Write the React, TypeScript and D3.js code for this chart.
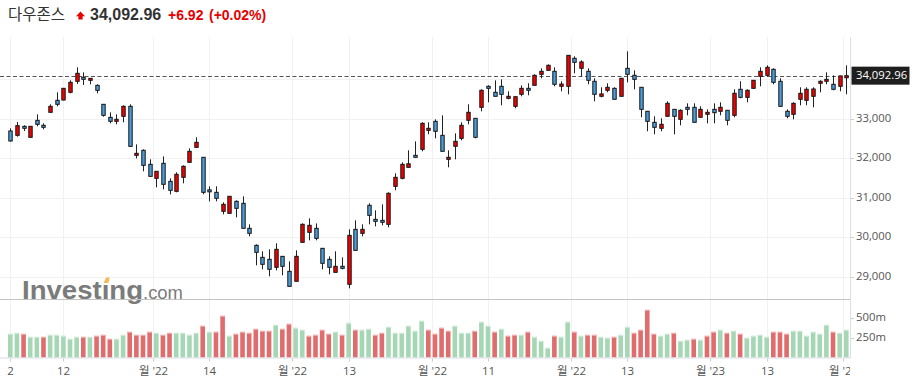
import React from "react";
import * as d3 from "d3";

const openP = [
  32691, 32581, 32809, 32531, 32961, 32835, 33164, 33468, 33476, 33671,
  33949, 34051, 33975, 33848, 33367, 33037, 32936, 33063, 33316, 32074,
  32201, 31846, 31492, 31872, 31416, 31162, 31517, 31897, 32277, 32024,
  31200, 31137, 30656, 30605, 30909, 30858, 30225, 29794, 29490, 29439,
  29237, 29515, 29135, 28882, 29870, 30123, 30225, 29718, 29439, 29110,
  29262, 28806, 30199, 30098, 30808, 30453, 30427, 30326, 31289, 31492,
  31770, 32074, 32226, 32708, 32936, 32581, 31973, 32303, 32505, 32962,
  33012, 33291, 33823, 33671, 33823, 33519, 33316, 33620, 33772, 33848,
  34127, 34228, 34203, 33823, 33823, 34532, 34279, 34203, 33950, 33570,
  33722, 33772, 33570, 34279, 34102, 33798, 33190, 32911, 32759, 33063,
  33240, 32987, 33291, 33291, 33038, 33114, 33240, 33190, 33215, 33088,
  33747, 33544, 33772, 34076, 34102, 34254, 33950, 33190, 33114, 33494,
  33468, 33570, 33899, 33950, 33874, 33823, 34040,
];
const closeP = [
  32438, 32826, 32759, 32809, 32860, 32784, 33316, 33367, 33772, 33924,
  34152, 34000, 34025, 33721, 33088, 32936, 32987, 33316, 32302, 32125,
  31821, 31542, 31669, 31340, 31188, 31593, 31796, 32176, 32404, 31137,
  31150, 30985, 30833, 31036, 30732, 30225, 30098, 29617, 29313, 29186,
  29693, 29262, 28755, 29515, 30326, 30301, 29971, 29338, 29237, 29262,
  29211, 30047, 29667, 30199, 30554, 30402, 30377, 31112, 31517, 31846,
  31860, 32024, 32885, 32759, 32683, 32176, 32024, 32429, 32835, 33164,
  32531, 33722, 33772, 33570, 33620, 33570, 33560, 33772, 33722, 34102,
  34203, 34355, 33874, 33880, 34608, 34431, 34440, 33975, 33620, 33630,
  33798, 33494, 34026, 34127, 34000, 33240, 32936, 32784, 32860, 33392,
  33063, 33215, 33240, 32911, 33240, 33164, 33155, 33291, 32962, 33646,
  33544, 33722, 33975, 34203, 34304, 33924, 33316, 33063, 33392, 33646,
  33747, 33755, 33950, 34000, 33747, 34086.04, 34092.96,
];
const highP = [
  32759, 32919, 32835, 32815, 33113, 32885, 33367, 33671, 33780, 33975,
  34304, 34177, 34030, 33873, 33372, 33164, 33113, 33341, 33367, 32353,
  32226, 31973, 31675, 32049, 31492, 31644, 31821, 32252, 32531, 32030,
  31289, 31289, 30884, 31042, 30934, 31036, 30326, 29819, 29642, 29693,
  29845, 29520, 29389, 29667, 30351, 30478, 30351, 29724, 29515, 29642,
  29490, 30199, 30427, 30326, 30858, 30681, 30833, 31137, 31618, 31897,
  32201, 32429, 32911, 32911, 32987, 33088, 32201, 32632, 32911, 33367,
  33018, 33747, 33848, 33975, 34000, 33696, 33565, 33848, 33899, 34127,
  34279, 34380, 34304, 33950, 34615, 34583, 34482, 34279, 34026, 33798,
  33899, 33798, 34032, 34710, 34228, 33805, 33195, 33063, 33012, 33443,
  33245, 33240, 33392, 33392, 33316, 33240, 33392, 33418, 33220, 33747,
  33950, 33747, 33980, 34304, 34355, 34279, 34026, 33240, 33418, 33798,
  33798, 33798, 33975, 34178, 34102, 34092, 34355,
];
const lowP = [
  32421, 32547, 32691, 32525, 32809, 32733, 33160, 33316, 33468, 33645,
  33882, 33857, 33873, 33645, 33054, 32885, 32860, 32911, 32295, 31998,
  31669, 31535, 31264, 31213, 31086, 31137, 31365, 31890, 32270, 31086,
  30909, 30909, 30580, 30600, 30503, 30218, 30022, 29287, 29186, 29009,
  29161, 29034, 28748, 28875, 29865, 29921, 29921, 29186, 29059, 29105,
  29186, 28704, 29660, 30022, 30326, 30275, 30301, 30250, 31188, 31466,
  31765, 32018, 32176, 32607, 32505, 32170, 31771, 31973, 32455, 32860,
  32505, 33190, 33418, 33564, 33342, 33494, 33266, 33570, 33595, 33843,
  34026, 34222, 33823, 33696, 33620, 34152, 34076, 33874, 33443, 33544,
  33671, 33490, 33565, 33924, 33747, 33038, 32683, 32607, 32683, 33058,
  32607, 32835, 33088, 32905, 33033, 32885, 32885, 33088, 32835, 33038,
  33519, 33418, 33767, 33823, 34076, 33874, 33310, 33012, 32987, 33342,
  33342, 33291, 33671, 33874, 33722, 33696, 33620,
];
// volume in millions
const volumeM = [
  296, 308, 296, 258, 258, 258, 283, 283, 271, 233,
  258, 258, 258, 271, 283, 233, 233, 283, 321, 283,
  283, 321, 308, 283, 308, 308, 308, 283, 308, 396,
  321, 321, 521, 271, 296, 321, 308, 358, 333, 333,
  408, 358, 421, 371, 346, 271, 283, 346, 296, 321,
  283, 433, 346, 346, 358, 283, 308, 383, 308, 308,
  396, 333, 458, 346, 296, 371, 333, 396, 308, 308,
  333, 446, 396, 321, 358, 271, 283, 283, 321, 258,
  208, 121, 271, 258, 446, 321, 271, 283, 283, 258,
  246, 258, 283, 383, 308, 346, 596, 296, 271, 296,
  308, 208, 221, 233, 221, 271, 321, 346, 308, 333,
  296, 246, 271, 283, 258, 321, 321, 296, 333, 333,
  271, 321, 296, 408, 321, 308, 346,
];
const dateTickIdx = [0, 8, 21.5, 30, 42.5, 51, 63.5, 72, 84.5, 93, 105.5, 114, 125.5];
const dateTickLabels = ["2", "12", "월 '22", "14", "월 '22", "13", "월 '22", "11", "월 '22", "13", "월 '23", "13", "월 '23"];
const priceTicks = [29000, 30000, 31000, 32000, 33000, 34000];
const volumeTicks = [250, 500];
const titleName = "다우존스";
const lastPriceText = "34,092.96";
const changeText = "+6.92";
const changePctText = "(+0.02%)";

const W = 915;
const H = 386;
const PLOT_R = 850;
const TOP = 37;
const VOL_BASE = 357.5;
const AXIS_FONT = "'Open Sans', 'Noto Sans CJK KR', sans-serif";

export default function App() {
  const n = closeP.length;
  const x = d3.scaleLinear().domain([0, n - 1]).range([10.3, 846.3]);
  const y = d3.scaleLinear().domain([29000, 34000]).range([276.67, 79.33]);
  const v = d3.scaleLinear().domain([0, 500]).range([VOL_BASE, 317.5]);
  const fmt = d3.format(",");
  const last = closeP[n - 1];
  const yLast = y(last);
  const bw = 3.4;
  const vw = 4.6;
  // price labels hidden behind the last-price box are not drawn
  const labelTicks = priceTicks.filter((p) => Math.abs(y(p) - yLast) > 12);

  return (
    <svg
      width={W}
      height={H}
      style={{ position: "absolute", left: 0, top: 0, background: "#fff" }}
    >
      <defs>
        <clipPath id="plotClip">
          <rect x={0} y={TOP} width={PLOT_R} height={H - TOP} />
        </clipPath>
      </defs>

      {/* title */}
      <text x={8} y={20} fontFamily="'Noto Sans CJK KR', sans-serif" fontSize={15.5} fill="#333">
        {titleName}
      </text>
      <polygon points="76,16.2 80.5,11.5 85,16.2 82.6,16.2 82.6,19.6 78.4,19.6 78.4,16.2" fill="#e60000" />
      <text x={90} y={20} fontFamily="'Liberation Sans', Arial, sans-serif" fontWeight="bold" fontSize={16} fill="#333">
        {lastPriceText}
      </text>
      <text x={168} y={20} fontFamily="'Liberation Sans', Arial, sans-serif" fontWeight="bold" fontSize={14} fill="#e60000">
        {changeText}
      </text>
      <text x={209} y={20} fontFamily="'Liberation Sans', Arial, sans-serif" fontWeight="bold" fontSize={14} fill="#e60000">
        {changePctText}
      </text>

      {/* grid */}
      <g>
        {priceTicks.map((p) => (
          <line key={"hg" + p} x1={0} x2={PLOT_R} y1={Math.round(y(p)) + 0.5} y2={Math.round(y(p)) + 0.5} stroke="#f1f1f1" />
        ))}
        {dateTickIdx.map((t, i) => (
          <line key={"vg" + i} x1={Math.round(x(t)) + 0.5} x2={Math.round(x(t)) + 0.5} y1={TOP} y2={VOL_BASE} stroke="#f1f1f1" />
        ))}
      </g>

      {/* logo */}
      <g>
        <text x={22} y={298.5} fontFamily="'Liberation Sans', Arial, sans-serif" fontWeight="bold" fontSize={26} fill="#7b7b7b" textLength={121} lengthAdjust="spacingAndGlyphs">
          {"Invest\u0131ng"}
        </text>
        <polygon points="103.6,283 106,277.6 109.6,277.6 108.4,283" fill="#f6b955" />
        <text x={143} y={298.5} fontFamily="'Liberation Sans', Arial, sans-serif" fontSize={19} fill="#7b7b7b" textLength={40} lengthAdjust="spacingAndGlyphs">
          .com
        </text>
      </g>

      {/* separator between panes */}
      <line x1={0} x2={PLOT_R} y1={299.5} y2={299.5} stroke="#c4c4c4" />

      <g clipPath="url(#plotClip)">
        {/* last price dashed line */}
        <line x1={0} x2={PLOT_R} y1={Math.round(yLast) + 0.5} y2={Math.round(yLast) + 0.5} stroke="#555" strokeDasharray="4 2.5" />

        {/* candles */}
        {closeP.map((c, i) => {
          const o = openP[i];
          const up = c >= o;
          const cx = Math.round(x(i)) + 0.5;
          const top = y(Math.max(o, c));
          const bot = y(Math.min(o, c));
          return (
            <g key={"c" + i}>
              <line x1={cx} x2={cx} y1={y(highP[i])} y2={y(lowP[i])} stroke="#222" strokeWidth={1} />
              <rect
                x={cx - bw / 2}
                y={top}
                width={bw}
                height={Math.max(bot - top, 1)}
                fill={up ? "#f20000" : "#4a9ddc"}
                stroke="#161616"
                strokeWidth={1}
              />
            </g>
          );
        })}

        {/* volume */}
        {volumeM.map((vol, i) => {
          const upV = i === 0 ? true : closeP[i] >= closeP[i - 1];
          const cx = x(i);
          const top = v(vol);
          return (
            <g key={"v" + i}>
              <rect x={cx - vw / 2} y={top} width={vw} height={VOL_BASE - top} fill={upV ? "#a6d7b5" : "#e06d6d"} />
              <rect x={cx - vw / 2} y={top} width={vw} height={1} fill={upV ? "#d2ecdb" : "#f3b4b4"} />
            </g>
          );
        })}
      </g>

      {/* volume baseline */}
      <line x1={0} x2={PLOT_R} y1={VOL_BASE + 0.5} y2={VOL_BASE + 0.5} stroke="#d9dde6" />
      {/* right axis line */}
      <line x1={PLOT_R + 0.5} x2={PLOT_R + 0.5} y1={TOP} y2={VOL_BASE + 1} stroke="#dcdfe6" />

      {/* date ticks & labels */}
      <g clipPath="url(#plotClip)">
        {dateTickIdx.map((t, i) => {
          const tx = Math.round(x(t)) + 0.5;
          return (
            <g key={"dt" + i}>
              <line x1={tx} x2={tx} y1={VOL_BASE + 1} y2={VOL_BASE + 4} stroke="#ccc" />
              <text x={tx} y={372} textAnchor="middle" dominantBaseline="middle" fontFamily={AXIS_FONT} fontSize={11.5} fill="#555">
                {dateTickLabels[i]}
              </text>
            </g>
          );
        })}
      </g>

      {/* price axis */}
      <g>
        {priceTicks.map((p) => (
          <line key={"ptk" + p} x1={PLOT_R + 1} x2={PLOT_R + 4} y1={Math.round(y(p)) + 0.5} y2={Math.round(y(p)) + 0.5} stroke="#ccc" />
        ))}
        {labelTicks.map((p) => (
          <text key={"pt" + p} x={856} y={y(p)} dominantBaseline="middle" fontFamily={AXIS_FONT} fontSize={11.3} fill="#555">
            {fmt(p)}
          </text>
        ))}
        {volumeTicks.map((t) => (
          <g key={"vt" + t}>
            <line x1={PLOT_R + 1} x2={PLOT_R + 4} y1={Math.round(v(t)) + 0.5} y2={Math.round(v(t)) + 0.5} stroke="#ccc" />
            <text x={856} y={v(t)} dominantBaseline="middle" fontFamily={AXIS_FONT} fontSize={11.3} fill="#555">
              {t + "m"}
            </text>
          </g>
        ))}
        <rect x={851.5} y={yLast - 9} width={58} height={18} fill="#1e1e1e" />
        <text x={856} y={yLast} dominantBaseline="middle" fontFamily={AXIS_FONT} fontSize={11.3} fill="#fff">
          {d3.format(",.2f")(last)}
        </text>
      </g>
    </svg>
  );
}
